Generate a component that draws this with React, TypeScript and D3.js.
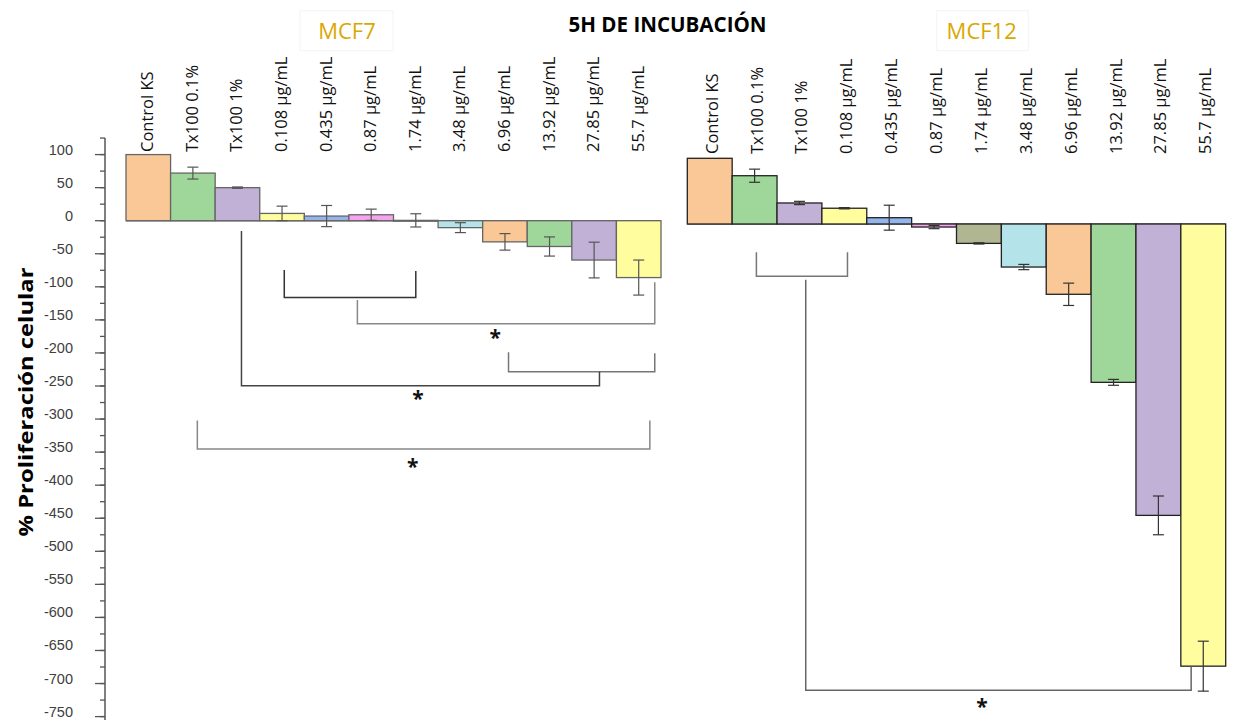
import React from "react";
import * as d3 from "d3";

const categories = [
  "Control KS", "Tx100 0.1%", "Tx100 1%", "0.108 µg/mL", "0.435 µg/mL", "0.87 µg/mL",
  "1.74 µg/mL", "3.48 µg/mL", "6.96 µg/mL", "13.92 µg/mL", "27.85 µg/mL", "55.7 µg/mL",
];
const mcf7Values = [100, 72, 50, 11, 7, 9, 0.5, -10.5, -32, -39, -59.5, -86];
const mcf7Errors = [0, 9, 1, 11, 16, 8.5, 10, 7.5, 12.5, 14.5, 27, 26.5];
const mcf12Values = [100, 73.5, 32, 24, 9.6, -4.6, -29.5, -65.5, -107, -241, -443.5, -673];
const mcf12Errors = [0, 10, 2.5, 1, 19, 2.5, 1, 4, 17, 4.5, 29.5, 38];
const barColors = [
  "#FAC896", "#9FD79B", "#C2B1D6", "#FFFD9E", "#94B4EC", "#F5A4EE",
  "#B1B692", "#B4E3E9", "#FAC896", "#9FD79B", "#C2B1D6", "#FFFD9E",
];
const yTicks = d3.range(100, -751, -50);
const yMinorTicks = d3.range(125, -776, -25);

// significance brackets: x in category-index units, y in data units
const mcf7Brackets = [
  { x1: 3.55, y1: -74.5, x2: 6.5, y2: -76, yb: -116, c: "#333" },
  { x1: 5.19, y1: -120, x2: 11.86, y2: -93, yb: -155.8, c: "#888" },
  { x1: 8.58, y1: -199, x2: 11.86, y2: -200.5, yb: -228.4, c: "#777" },
  { x1: 2.59, y1: -15.6, x2: 10.62, y2: -228.4, yb: -249.5, c: "#444" },
  { x1: 1.6, y1: -302, x2: 11.75, y2: -302, yb: -345.3, c: "#888" },
];
const mcf7Stars = [
  { x: 8.28, y: -173.9 },
  { x: 6.55, y: -266 },
  { x: 6.43, y: -369.5 },
];
const mcf12Brackets = [
  { x1: 1.54, y1: -43, x2: 3.57, y2: -43, yb: -79.6, c: "#777" },
  { x1: 2.64, y1: -84.8, x2: 11.23, y2: -673.8, yb: -709.7, c: "#666" },
];
const mcf12Stars = [{ x: 6.57, y: -732 }];

const W = 1246, H = 720;

export default function App() {
  const yL = d3.scaleLinear().domain([0, -750]).range([220.7, 716.6]);
  const yR = d3.scaleLinear().domain([0, 100]).range([224, 158.3]);
  const xL = d3.scaleBand().domain(categories).range([126, 661]).paddingInner(0).paddingOuter(0);
  const xR = d3.scaleBand().domain(categories).range([687.3, 1225.7]).paddingInner(0).paddingOuter(0);
  const axisX = 105;

  const panel = (
    key: string,
    x: d3.ScaleBand<string>,
    y: d3.ScaleLinear<number, number>,
    values: number[],
    errors: number[],
    stroke: string,
    errColor: string,
    labelY: number,
    labelDx: number,
    brackets: typeof mcf7Brackets,
    stars: { x: number; y: number }[]
  ) => {
    const bw = x.bandwidth();
    const xi = (i: number) => x.range()[0] + i * x.step();
    const line = d3.line<[number, number]>();
    return (
      <g key={key}>
        <line x1={x.range()[0]} x2={x.range()[1]} y1={y(0)} y2={y(0)} stroke="#777" strokeWidth={1.5} />
        {categories.map((c, i) => {
          const v = values[i];
          const top = Math.min(y(v), y(0));
          const h = Math.max(Math.abs(y(v) - y(0)), 0.8);
          return (
            <rect key={c} x={x(c)} y={top} width={bw} height={h} fill={barColors[i]} stroke={stroke} strokeWidth={1.3} />
          );
        })}
        {categories.map((c, i) => {
          const e = errors[i];
          if (!e) return null;
          const cx = (x(c) as number) + bw / 2;
          const v = values[i];
          return (
            <g key={c} stroke={errColor} strokeWidth={1.2}>
              <line x1={cx} x2={cx} y1={y(v + e)} y2={y(v - e)} />
              <line x1={cx - 5.5} x2={cx + 5.5} y1={y(v + e)} y2={y(v + e)} />
              <line x1={cx - 5.5} x2={cx + 5.5} y1={y(v - e)} y2={y(v - e)} />
            </g>
          );
        })}
        {categories.map((c) => {
          const cx = (x(c) as number) + bw / 2;
          return (
            <text key={c} transform={`translate(${cx + labelDx},${labelY}) rotate(-90)`} fontFamily="'Open Sans', sans-serif" fontSize={16.5} fill="#111">
              {c}
            </text>
          );
        })}
        {brackets.map((b, i) => (
          <path
            key={i}
            d={line([[xi(b.x1), y(b.y1)], [xi(b.x1), y(b.yb)], [xi(b.x2), y(b.yb)], [xi(b.x2), y(b.y2)]]) as string}
            fill="none"
            stroke={b.c}
            strokeWidth={1.5}
          />
        ))}
        {stars.map((s, i) => (
          <text key={i} x={xi(s.x)} y={y(s.y) + 9} textAnchor="middle" fontFamily="'Open Sans', sans-serif" fontWeight="bold" fontSize={21} fill="#111">
            *
          </text>
        ))}
      </g>
    );
  };

  return (
    <svg width={W} height={H} style={{ position: "absolute", left: 0, top: 0, background: "#fff" }}>
      <rect width={W} height={H} fill="#fff" />
      {/* Title */}
      <text x={667.5} y={31.7} textAnchor="middle" fontFamily="'Open Sans', sans-serif" fontWeight="bold" fontSize={22} textLength={198} lengthAdjust="spacingAndGlyphs" fill="#000">
        5H DE INCUBACIÓN
      </text>
      {/* panel labels */}
      <rect x={300} y={10.7} width={93} height={40} fill="#fff" stroke="#f4f4f4" />
      <text x={347} y={39.3} textAnchor="middle" fontFamily="'Open Sans', sans-serif" fontSize={22} fill="#D9A800">MCF7</text>
      <rect x={936.7} y={10.7} width={91.6} height={40} fill="#fff" stroke="#f4f4f4" />
      <text x={981.7} y={39.3} textAnchor="middle" fontFamily="'Open Sans', sans-serif" fontSize={22} fill="#D9A800">MCF12</text>

      {/* Y axis */}
      <line x1={axisX} x2={axisX} y1={yL(125)} y2={H} stroke="#555" strokeWidth={1.5} />
      {yMinorTicks.map((t) => (
        <line key={"m" + t} x1={axisX - 5} x2={axisX} y1={yL(t)} y2={yL(t)} stroke="#555" strokeWidth={1.3} />
      ))}
      {yTicks.map((t) => (
        <g key={t}>
          <line x1={axisX - 10} x2={axisX} y1={yL(t)} y2={yL(t)} stroke="#555" strokeWidth={1.3} />
          <text x={73} y={yL(t)} textAnchor="end" fontFamily="'Liberation Sans', Arial, sans-serif" fontSize={14.5} fill="#404040">
            {t}
          </text>
        </g>
      ))}
      <text transform={`translate(33,402) rotate(-90)`} textAnchor="middle" fontFamily="'Open Sans', sans-serif" fontWeight="bold" fontSize={20} textLength={269} lengthAdjust="spacingAndGlyphs" fill="#000">
        % Proliferación celular
      </text>

      {panel("mcf7", xL, yL, mcf7Values, mcf7Errors, "#666", "#555", 152, 5, mcf7Brackets, mcf7Stars)}
      {panel("mcf12", xR, yR, mcf12Values, mcf12Errors, "#222", "#333", 154, 8, mcf12Brackets, mcf12Stars)}
    </svg>
  );
}
